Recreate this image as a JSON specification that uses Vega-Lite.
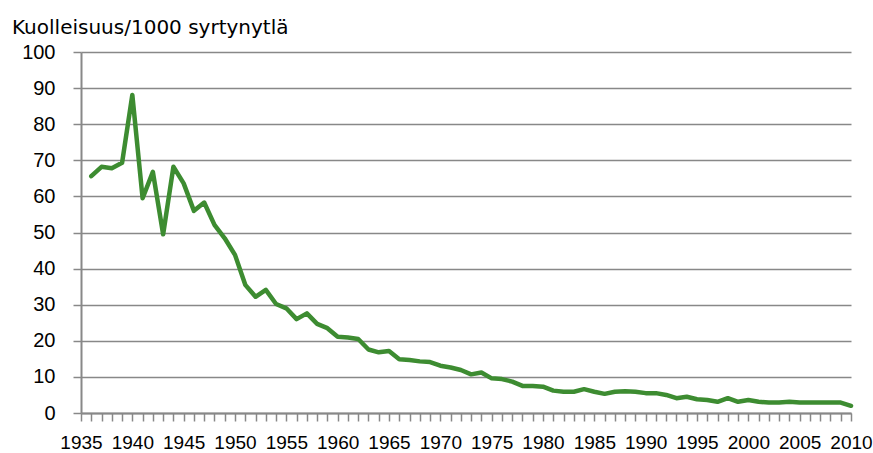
{
  "$schema": "https://vega.github.io/schema/vega-lite/v6.json",
  "autosize": {"type": "none"},
  "width": 770,
  "height": 361,
  "padding": {"left": 81, "top": 52, "right": 22, "bottom": 40},
  "background": "white",
  "title": {
    "text": "Kuolleisuus/1000 syrtynytlä",
    "anchor": "start",
    "frame": "group",
    "dx": -69,
    "offset": 4,
    "font": "DejaVu Sans",
    "fontSize": 20,
    "fontWeight": "normal",
    "color": "black"
  },
  "config": {
    "view": {"stroke": null},
    "axis": {
      "labelFont": "Liberation Sans",
      "labelFontSize": 19,
      "labelColor": "black",
      "domainColor": "#888888",
      "tickColor": "#888888",
      "gridColor": "#888888",
      "domainWidth": 2,
      "tickWidth": 1.5,
      "gridWidth": 1.5,
      "tickSize": 8,
      "title": null
    }
  },
  "data": {
    "values": [
      {"year": 1936, "rate": 65.6},
      {"year": 1937, "rate": 68.2},
      {"year": 1938, "rate": 67.8},
      {"year": 1939, "rate": 69.3},
      {"year": 1940, "rate": 88.1},
      {"year": 1941, "rate": 59.5},
      {"year": 1942, "rate": 66.8},
      {"year": 1943, "rate": 49.5},
      {"year": 1944, "rate": 68.2},
      {"year": 1945, "rate": 63.6},
      {"year": 1946, "rate": 56.0},
      {"year": 1947, "rate": 58.3},
      {"year": 1948, "rate": 52.1},
      {"year": 1949, "rate": 48.4},
      {"year": 1950, "rate": 43.8},
      {"year": 1951, "rate": 35.5},
      {"year": 1952, "rate": 32.2},
      {"year": 1953, "rate": 34.1},
      {"year": 1954, "rate": 30.2},
      {"year": 1955, "rate": 29.0},
      {"year": 1956, "rate": 26.0},
      {"year": 1957, "rate": 27.6},
      {"year": 1958, "rate": 24.7},
      {"year": 1959, "rate": 23.5},
      {"year": 1960, "rate": 21.1},
      {"year": 1961, "rate": 20.9},
      {"year": 1962, "rate": 20.5},
      {"year": 1963, "rate": 17.6},
      {"year": 1964, "rate": 16.8},
      {"year": 1965, "rate": 17.2},
      {"year": 1966, "rate": 14.9},
      {"year": 1967, "rate": 14.7},
      {"year": 1968, "rate": 14.3},
      {"year": 1969, "rate": 14.1},
      {"year": 1970, "rate": 13.1},
      {"year": 1971, "rate": 12.6},
      {"year": 1972, "rate": 11.9},
      {"year": 1973, "rate": 10.7},
      {"year": 1974, "rate": 11.2},
      {"year": 1975, "rate": 9.6},
      {"year": 1976, "rate": 9.4},
      {"year": 1977, "rate": 8.7},
      {"year": 1978, "rate": 7.5},
      {"year": 1979, "rate": 7.5},
      {"year": 1980, "rate": 7.3},
      {"year": 1981, "rate": 6.2},
      {"year": 1982, "rate": 5.9},
      {"year": 1983, "rate": 5.9},
      {"year": 1984, "rate": 6.6},
      {"year": 1985, "rate": 5.9},
      {"year": 1986, "rate": 5.3},
      {"year": 1987, "rate": 5.9},
      {"year": 1988, "rate": 6.0},
      {"year": 1989, "rate": 5.9},
      {"year": 1990, "rate": 5.5},
      {"year": 1991, "rate": 5.5},
      {"year": 1992, "rate": 5.0},
      {"year": 1993, "rate": 4.1},
      {"year": 1994, "rate": 4.5},
      {"year": 1995, "rate": 3.8},
      {"year": 1996, "rate": 3.6},
      {"year": 1997, "rate": 3.1},
      {"year": 1998, "rate": 4.1},
      {"year": 1999, "rate": 3.1},
      {"year": 2000, "rate": 3.6},
      {"year": 2001, "rate": 3.1},
      {"year": 2002, "rate": 2.9},
      {"year": 2003, "rate": 2.9},
      {"year": 2004, "rate": 3.1},
      {"year": 2005, "rate": 2.9},
      {"year": 2006, "rate": 2.9},
      {"year": 2007, "rate": 2.9},
      {"year": 2008, "rate": 2.9},
      {"year": 2009, "rate": 2.9},
      {"year": 2010, "rate": 2.0}
    ]
  },
  "mark": {"type": "line", "color": "#3d8c31", "strokeWidth": 4.5, "strokeJoin": "round", "strokeCap": "round"},
  "encoding": {
    "x": {
      "field": "year",
      "type": "quantitative",
      "scale": {"domain": [1935, 2010], "nice": false, "zero": false},
      "axis": {
        "values": [1935,1936,1937,1938,1939,1940,1941,1942,1943,1944,1945,1946,1947,1948,1949,1950,1951,1952,1953,1954,1955,1956,1957,1958,1959,1960,1961,1962,1963,1964,1965,1966,1967,1968,1969,1970,1971,1972,1973,1974,1975,1976,1977,1978,1979,1980,1981,1982,1983,1984,1985,1986,1987,1988,1989,1990,1991,1992,1993,1994,1995,1996,1997,1998,1999,2000,2001,2002,2003,2004,2005,2006,2007,2008,2009,2010],
        "labelExpr": "datum.value % 5 === 0 ? datum.value : ''",
        "format": "d",
        "grid": false,
        "labelOverlap": false,
        "labelBound": false,
        "labelFlush": false,
        "labelPadding": 12
      }
    },
    "y": {
      "field": "rate",
      "type": "quantitative",
      "scale": {"domain": [0, 100], "nice": false},
      "axis": {
        "values": [0,10,20,30,40,50,60,70,80,90,100],
        "grid": true,
        "labelPadding": 18,
        "labelFontSize": 20
      }
    }
  }
}
